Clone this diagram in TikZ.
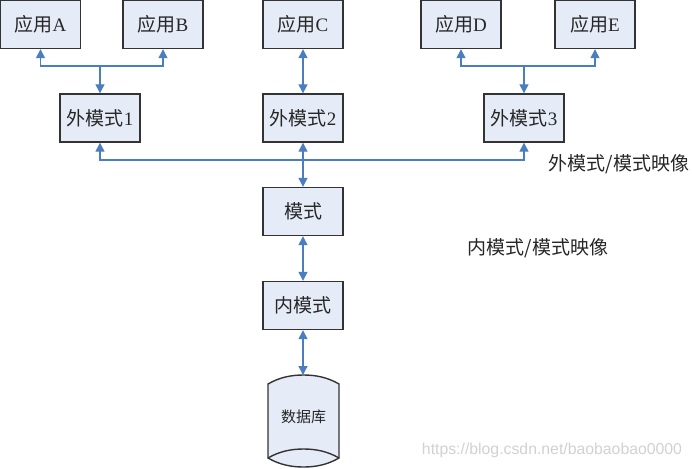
\documentclass[tikz,border=0pt]{standalone}
\usepackage{fontspec}
\setmainfont{Liberation Serif}
\setsansfont{Liberation Sans}
\newfontfamily\cjk{Noto Sans CJK SC}
\usetikzlibrary{arrows.meta,calc}
\definecolor{boxfill}{HTML}{E6ECF7}
\definecolor{boxline}{HTML}{333333}
\definecolor{linkblue}{HTML}{4A7EBF}
\tikzset{
  box/.style={draw=boxline, line width=1.4pt, fill=boxfill, minimum width=80pt, minimum height=48pt, inner sep=0pt, font=\fontsize{19}{21}\selectfont, text=black!85},
  link/.style={draw=linkblue, line width=1.3pt},
  tip/.tip={Triangle[length=9pt,width=9pt]},
  lbl/.style={font=\fontsize{19}{21}\selectfont\cjk, text=black!85, inner sep=0pt},
}
\begin{document}
\begin{tikzpicture}[x=1pt,y=-1pt]
\useasboundingbox (0,0) rectangle (692,468);
% application boxes
\node[box] (appA) at (40.5,24.5) {{\cjk 应用}A};
\node[box] (appB) at (163,24.5) {{\cjk 应用}B};
\node[box] (appC) at (303,24.5) {{\cjk 应用}C};
\node[box] (appD) at (461,24.5) {{\cjk 应用}D};
\node[box] (appE) at (595,24.5) {{\cjk 应用}E};
% external schemas
\node[box] (em1) at (100,118) {{\cjk 外模式}1};
\node[box] (em2) at (303,118) {{\cjk 外模式}2};
\node[box] (em3) at (524,118) {{\cjk 外模式}3};
% schema & internal schema
\node[box] (sch) at (303,211.5) {\cjk 模式};
\node[box] (ism) at (303,305.5) {\cjk 内模式};
% database shape
\coordinate (dbtop) at (303,375);
\draw[draw=boxline, line width=1.4pt, fill=boxfill]
  (268,384) .. controls (280,377) and (292,375) .. (303.5,375)
  .. controls (315,375) and (327,377) .. (339,384)
  -- (339,458) .. controls (327,465) and (315,467) .. (303.5,467)
  .. controls (292,467) and (280,465) .. (268,458) -- cycle;
\draw[draw=boxline, line width=1.4pt]
  (268,458) .. controls (280,451) and (292,449) .. (303.5,449)
  .. controls (315,449) and (327,451) .. (339,458);
\node[inner sep=0pt, font=\fontsize{15}{17}\selectfont\cjk, text=black!85] (db) at (303.5,417) {数据库};
% connectors
\coordinate (j1) at (100,66);
\coordinate (j3) at (524,66);
\draw[link,{tip}-{tip}] (appA.south) |- (j1) -| (appB.south);
\draw[link,-{tip}] (j1) -- (em1.north);
\draw[link,{tip}-{tip}] (appD.south) |- (j3) -| (appE.south);
\draw[link,-{tip}] (j3) -- (em3.north);
\draw[link,{tip}-{tip}] (appC.south) -- (em2.north);
\coordinate (bus) at (303,160);
\draw[link,{tip}-{tip}] (em1.south) |- (bus) -| (em3.south);
\draw[link,{tip}-{tip}] (em2.south) -- (sch.north);
\draw[link,{tip}-{tip}] (sch.south) -- (ism.north);
\draw[link,{tip}-{tip}] (ism.south) -- (dbtop);
% labels
\node[lbl] (l1) at (619,164) {外模式/模式映像};
\node[lbl] (l2) at (538,248) {内模式/模式映像};
\node[inner sep=0pt, font=\sffamily\fontsize{15.8}{17}\selectfont, text=black!18] (wm) at (552,450) {https://blog.csdn.net/baobaobao0000};
\end{tikzpicture}
\end{document}
